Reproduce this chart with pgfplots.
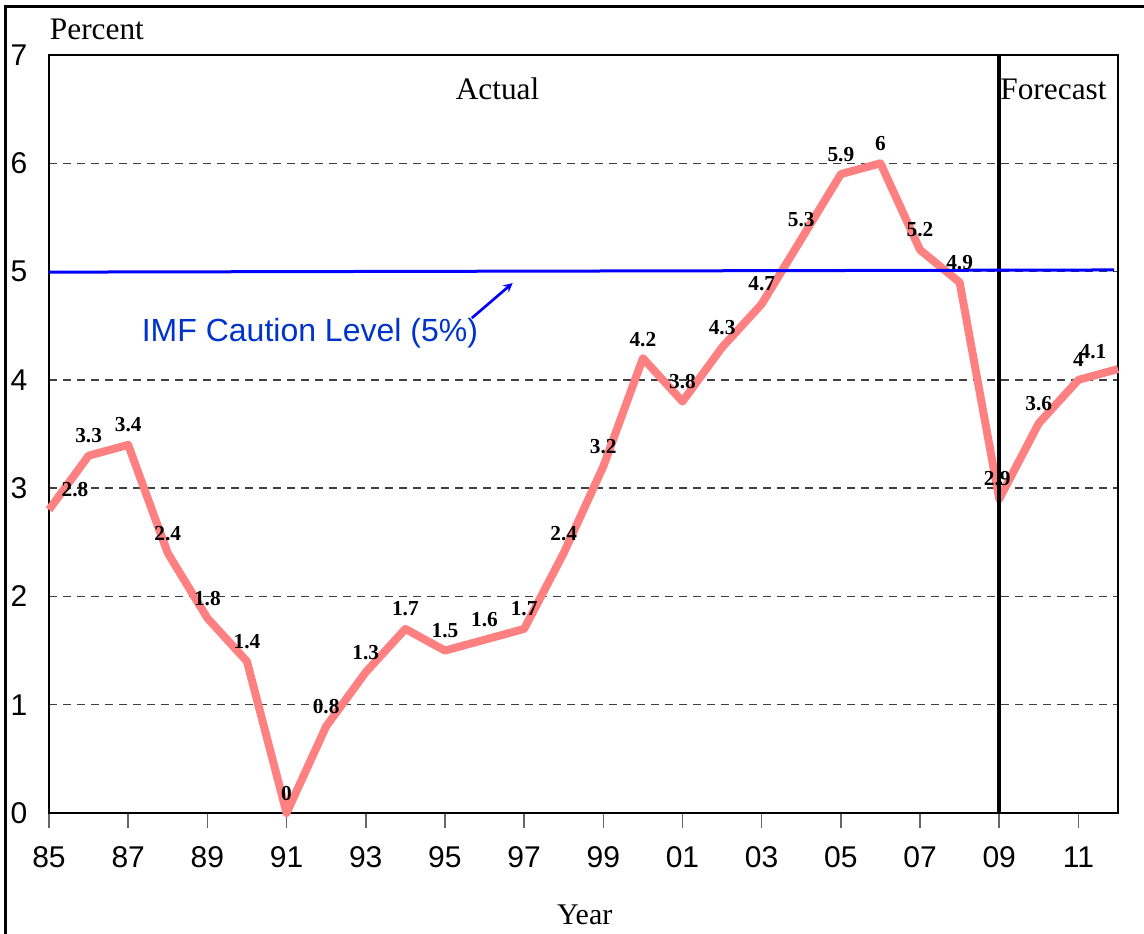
\documentclass[border=0pt]{standalone}
\usepackage{fontspec}
\setmainfont{Liberation Serif}
\newfontfamily\arial{Liberation Sans}
\usepackage{pgfplots}
\pgfplotsset{compat=1.18}
\usepackage{pgfplotstable}
\definecolor{salmon}{RGB}{255,128,128}
\definecolor{imftext}{RGB}{0,51,204}

\pgfplotstableread{
x y dx dy lab
1985 2.8 19.5 15 2.8
1986 3.3 0 15 3.3
1987 3.4 0 15 3.4
1988 2.4 0 15 2.4
1989 1.8 0 15 1.8
1990 1.4 0 15 1.4
1991 0 0 15 0
1992 0.8 0 15 0.8
1993 1.3 0 15 1.3
1994 1.7 0 15 1.7
1995 1.5 0 15 1.5
1996 1.6 0 15 1.6
1997 1.7 0 15 1.7
1998 2.4 0 15 2.4
1999 3.2 0 15 3.2
2000 4.2 0 14 4.2
2001 3.8 0 15 3.8
2002 4.3 0 15 4.3
2003 4.7 0 15 4.7
2004 5.3 0 15 5.3
2005 5.9 0 15 5.9
2006 6 0 15 6
2007 5.2 0 15 5.2
2008 4.9 0 15 4.9
2009 2.9 -1.5 15 2.9
2010 3.6 0 15 3.6
2011 4 0 15 4
2012 4.1 -18.75 12.75 4.1
}\datatable

\begin{document}
\begin{tikzpicture}
\path[use as bounding box] (-36.75pt,-90pt) rectangle (821.25pt,609.75pt);
\draw[line width=2.25pt] (-32.25pt,-100pt) -- (-32.25pt,604.5pt) -- (830pt,604.5pt);
\begin{axis}[
  at={(0,0)}, anchor=south west,
  scale only axis, width=801.75pt, height=568.5pt,
  xmin=1985, xmax=2012, ymin=0, ymax=7,
  clip=false,
  axis line style={line width=1.5pt, black},
  xtick={1985,1987,...,2011},
  xticklabels={85,87,89,91,93,95,97,99,01,03,05,07,09,11},
  ytick={0,1,...,7},
  xtick pos=bottom, ytick pos=left,
  tick align=outside,
  major tick length=11.25pt,
  xtick style={line width=1.2pt, black!60},
  ytick style={draw=none},
  ymajorgrids,
  major grid style={line width=1pt, black!75, dash pattern=on 6pt off 4.5pt},
  /pgf/number format/assume math mode=true,
  ticklabel style={font=\arial\fontsize{22.5}{24}\selectfont},
  xticklabel style={anchor=center, yshift=-21.75pt},
  yticklabel style={anchor=center, xshift=-11.25pt},
]
\addplot[salmon, line width=6pt, line join=round] table[x=x, y=y] {\datatable};
\addplot[black, line width=3pt] coordinates {(2009,0) (2009,7)};
\addplot[blue, line width=2.25pt] coordinates {(1985,4.995) (2011.9,5.015)};
\addplot[draw=none, mark=none,
  point meta=explicit symbolic,
  visualization depends on={\thisrow{dx} \as \dx},
  visualization depends on={\thisrow{dy} \as \dy},
  nodes near coords={\pgfplotspointmeta},
  nodes near coords style={anchor=center, xshift=\dx pt, yshift=\dy pt,
    font=\fontsize{16}{17}\selectfont\bfseries, inner sep=0pt},
] table[x=x, y=y, meta=lab] {\datatable};
\draw[-stealth, blue, line width=2pt] (axis cs:1995.68,4.571) -- (axis cs:1996.71,4.894);
\node[font=\arial\fontsize{24}{26}\selectfont, text=imftext] at (axis cs:1991.59,4.43) {IMF Caution Level (5\%)};
\node[font=\fontsize{23.5}{25}\selectfont] at (axis cs:1996.33,6.686) {Actual};
\node[font=\fontsize{23.5}{25}\selectfont] at (axis cs:2010.37,6.686) {Forecast};
\node[font=\fontsize{23.5}{25}\selectfont] at (axis cs:1986.21,7.24) {Percent};
\node[font=\fontsize{22.5}{24}\selectfont] at (axis cs:1998.53,-0.942) {Year};
\end{axis}
\end{tikzpicture}
\end{document}
